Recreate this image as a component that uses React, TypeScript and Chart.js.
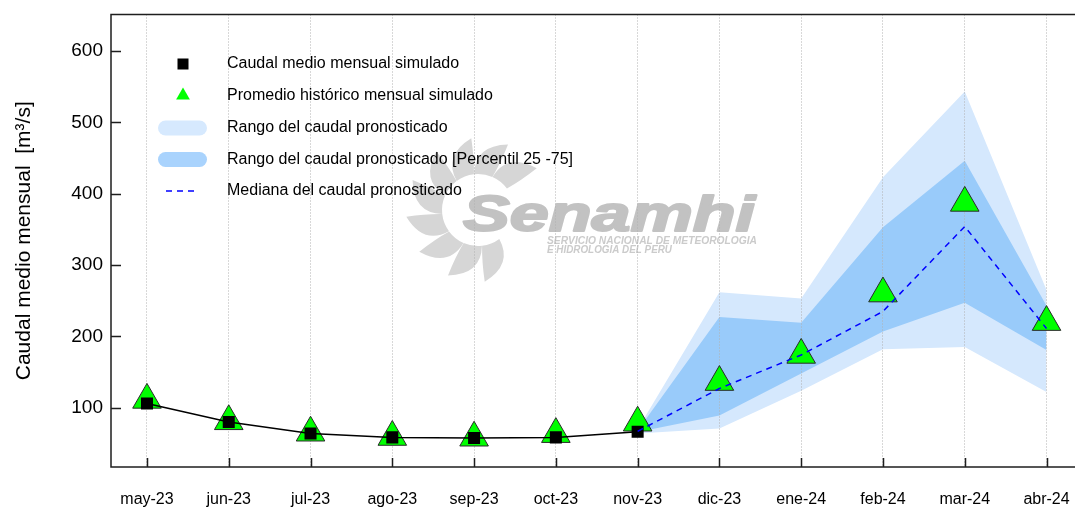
import React, { useEffect, useRef } from 'react';
import { Chart, registerables } from 'chart.js';

Chart.register(...registerables);

const FONT = "'Liberation Sans', Arial, sans-serif";

const months = ['may-23', 'jun-23', 'jul-23', 'ago-23', 'sep-23', 'oct-23', 'nov-23', 'dic-23', 'ene-24', 'feb-24', 'mar-24', 'abr-24'];
const simulado = [106, 80, 64, 58.5, 57.5, 58.5, 66.5];
const historico = [111, 81, 65, 59, 58, 63, 79, 136, 174, 260, 387, 220];
const forecastStart = 6;
const rangoMax = [70, 262, 253, 423, 543, 265];
const p75 = [68, 227, 219, 353, 446, 243];
const mediana = [67, 127, 174, 235, 354, 211];
const p25 = [66, 89, 148, 207, 247, 181];
const rangoMin = [64, 71, 124, 182, 185, 122];
const yTicks = [100, 200, 300, 400, 500, 600];
const legendLabels = [
  'Caudal medio mensual simulado',
  'Promedio histórico mensual simulado',
  'Rango del caudal pronosticado',
  'Rango del caudal pronosticado [Percentil 25 -75]',
  'Mediana del caudal pronosticado',
];
const yTitle = 'Caudal medio mensual  [m³/s]';

const OUTER = '#D5E8FD';
const INNER = '#99CBFA';
const SHIFT = 3; // canvas is drawn 3px above the page top

const pts = (vals: number[], start = 0) => vals.map((v, i) => ({ x: start + i, y: v }));

function drawLogo(ctx: CanvasRenderingContext2D) {
  ctx.save();
  ctx.translate(0, SHIFT);
  const cx = 478, cy = 210;
  ctx.fillStyle = '#d6d6d6';
  const n = 12;
  for (let k = 0; k < n; k++) {
    const a = (k * 2 * Math.PI) / n + 0.15;
    if (Math.cos(a) > 0.72) continue;
    const ri = 36, ro = 72;
    const p = (r: number, ang: number) => [cx + r * Math.cos(ang), cy + r * Math.sin(ang)];
    const [x0, y0] = p(ri, a - 0.26);
    const [c1x, c1y] = p(ro * 0.9, a - 0.2);
    const [tx, ty] = p(ro, a + 0.28);
    const [c2x, c2y] = p(ri + 16, a + 0.3);
    const [x1, y1] = p(ri, a + 0.26);
    ctx.beginPath();
    ctx.moveTo(x0, y0);
    ctx.quadraticCurveTo(c1x, c1y, tx, ty);
    ctx.quadraticCurveTo(c2x, c2y, x1, y1);
    ctx.arc(cx, cy, ri, a + 0.26, a - 0.26, true);
    ctx.closePath();
    ctx.fill();
  }
  ctx.fillStyle = '#c2c2c2';
  ctx.strokeStyle = '#c2c2c2';
  ctx.lineWidth = 2;
  ctx.lineJoin = 'round';
  ctx.textBaseline = 'alphabetic';
  ctx.textAlign = 'left';
  ctx.font = `italic bold 50px ${FONT}`;
  const w = ctx.measureText('Senamhi').width;
  ctx.save();
  ctx.translate(463, 231);
  ctx.scale(292 / w, 1);
  ctx.fillText('Senamhi', 0, 0);
  ctx.strokeText('Senamhi', 0, 0);
  ctx.restore();
  ctx.fillStyle = '#cbcbcb';
  ctx.font = `italic bold 10px ${FONT}`;
  const l1 = 'SERVICIO NACIONAL DE METEOROLOGIA';
  const l2 = 'E HIDROLOGIA DEL PERU';
  const w1 = ctx.measureText(l1).width;
  const w2 = ctx.measureText(l2).width;
  ctx.save();
  ctx.translate(547, 243.5);
  ctx.scale(210 / w1, 1);
  ctx.fillText(l1, 0, 0);
  ctx.restore();
  ctx.save();
  ctx.translate(547, 252.5);
  ctx.scale(125 / w2, 1);
  ctx.fillText(l2, 0, 0);
  ctx.restore();
  ctx.restore();
}

const decor = {
  id: 'decor',
  beforeDraw(chart: any) {
    drawLogo(chart.ctx);
  },
  afterDatasetsDraw(chart: any) {
    const ctx: CanvasRenderingContext2D = chart.ctx;
    const { left, top } = chart.chartArea;
    const mx = left + 72;
    const tx = left + 116;
    const rows = [top + 49.5, top + 81, top + 113.5, top + 145, top + 176.5];
    ctx.save();
    ctx.fillStyle = '#000';
    ctx.fillRect(mx - 5.5, rows[0] - 5.5, 11, 11);
    ctx.fillStyle = '#00FF00';
    ctx.beginPath();
    ctx.moveTo(mx, rows[1] - 8);
    ctx.lineTo(mx + 6.9, rows[1] + 4);
    ctx.lineTo(mx - 6.9, rows[1] + 4);
    ctx.closePath();
    ctx.fill();
    const band = (y: number, color: string) => {
      ctx.fillStyle = color;
      ctx.beginPath();
      (ctx as any).roundRect(mx - 25, y - 7.5, 49, 15, 7.5);
      ctx.fill();
    };
    band(rows[2], '#D6E9FE');
    band(rows[3], '#A9D3FD');
    ctx.strokeStyle = '#0000FF';
    ctx.lineWidth = 1.5;
    ctx.setLineDash([6, 5]);
    ctx.beginPath();
    ctx.moveTo(mx - 17, rows[4]);
    ctx.lineTo(mx + 16, rows[4]);
    ctx.stroke();
    ctx.setLineDash([]);
    ctx.fillStyle = '#000';
    ctx.font = `16px ${FONT}`;
    ctx.textBaseline = 'middle';
    ctx.textAlign = 'left';
    legendLabels.forEach((t, i) => ctx.fillText(t, tx, rows[i]));
    ctx.restore();
  },
  afterDraw(chart: any) {
    const ctx: CanvasRenderingContext2D = chart.ctx;
    const { left, top, right, bottom } = chart.chartArea;
    ctx.save();
    ctx.strokeStyle = '#1e1e1e';
    ctx.lineWidth = 1.5;
    ctx.strokeRect(left, top, right - left, bottom - top);
    ctx.beginPath();
    const ys = chart.scales.y;
    yTicks.forEach((v) => {
      const p = Math.round(ys.getPixelForValue(v)) + 0.5;
      ctx.moveTo(left, p);
      ctx.lineTo(left + 10, p);
    });
    const xs = chart.scales.x;
    months.forEach((_, i) => {
      const p = Math.round(xs.getPixelForValue(i)) + 0.5;
      ctx.moveTo(p, bottom);
      ctx.lineTo(p, bottom - 9);
    });
    ctx.stroke();
    ctx.restore();
  },
};

export default function App() {
  const ref = useRef<HTMLCanvasElement>(null);
  useEffect(() => {
    if (!ref.current) return;
    Chart.defaults.font.family = FONT;
    const chart = new Chart(ref.current, {
      type: 'line',
      data: {
        datasets: [
          {
            label: 'rangoMax',
            data: pts(rangoMax, forecastStart),
            borderWidth: 0,
            pointRadius: 0,
            fill: '+1',
            backgroundColor: OUTER,
            borderColor: 'rgba(0,0,0,0)',
            order: 10,
          },
          {
            label: 'rangoMin',
            data: pts(rangoMin, forecastStart),
            borderWidth: 0,
            pointRadius: 0,
            fill: false,
            borderColor: 'rgba(0,0,0,0)',
            order: 10,
          },
          {
            label: 'p75',
            data: pts(p75, forecastStart),
            borderWidth: 0,
            pointRadius: 0,
            fill: '+1',
            backgroundColor: INNER,
            borderColor: 'rgba(0,0,0,0)',
            order: 8,
          },
          {
            label: 'p25',
            data: pts(p25, forecastStart),
            borderWidth: 0,
            pointRadius: 0,
            fill: false,
            borderColor: 'rgba(0,0,0,0)',
            order: 8,
          },
          {
            label: legendLabels[1],
            data: pts(historico),
            showLine: false,
            pointStyle: 'triangle',
            pointRadius: 16.5,
            pointBackgroundColor: '#00FF00',
            pointBorderColor: '#2a2a2a',
            pointBorderWidth: 1,
            order: 4,
          },
          {
            label: legendLabels[0],
            data: pts(simulado),
            borderColor: '#000',
            borderWidth: 1.5,
            pointStyle: 'rect',
            pointRadius: 8.5,
            pointBackgroundColor: '#000',
            pointBorderColor: '#000',
            pointBorderWidth: 0,
            fill: false,
            order: 3,
          },
          {
            label: legendLabels[4],
            data: pts(mediana, forecastStart),
            borderColor: '#0000FF',
            borderWidth: 1.5,
            borderDash: [6, 5],
            pointRadius: 0,
            fill: false,
            order: 1,
          },
        ],
      },
      options: {
        animation: false,
        responsive: false,
        devicePixelRatio: 1,
        events: [],
        layout: { padding: { top: 11, right: 14, left: 0, bottom: 0 } },
        elements: { line: { tension: 0 } },
        plugins: {
          legend: { display: false },
          tooltip: { enabled: false },
          title: { display: false },
          filler: { drawTime: 'beforeDraw' } as any,
        },
        scales: {
          x: {
            type: 'linear',
            min: -0.44,
            max: 11.44,
            afterBuildTicks: (s: any) => {
              s.ticks = months.map((_, i) => ({ value: i }));
            },
            afterFit: (s: any) => {
              s.height = 41;
            },
            ticks: {
              callback: (v: any) => months[Math.round(Number(v))] ?? '',
              font: { family: FONT, size: 16 },
              color: '#000',
              padding: 23,
              maxRotation: 0,
              autoSkip: false,
            },
            grid: { color: '#b0b0b0', lineWidth: 1, drawTicks: false },
            border: { display: false, dash: [1, 2] },
          },
          y: {
            type: 'linear',
            min: 17,
            max: 651,
            afterBuildTicks: (s: any) => {
              s.ticks = yTicks.map((v) => ({ value: v }));
            },
            afterFit: (s: any) => {
              s.width = 111;
              s.paddingTop = 0;
              s.paddingBottom = 0;
            },
            ticks: { font: { family: FONT, size: 19, lineHeight: 0.2 }, color: '#000', padding: 8 },
            grid: { display: false, drawTicks: false },
            border: { display: false },
            title: {
              display: true,
              text: yTitle,
              font: { family: FONT, size: 21, lineHeight: 1.2 },
              color: '#000',
              padding: { top: 12, bottom: 0 },
            },
          },
        },
      },
      plugins: [decor],
    } as any);
    return () => chart.destroy();
  }, []);
  return (
    <div style={{ position: 'fixed', left: 0, top: 0, width: 1075, height: 508, overflow: 'hidden', background: '#fff' }}>
      <canvas
        ref={ref}
        width={1100}
        height={508 + SHIFT}
        style={{ display: 'block', position: 'absolute', left: 0, top: -SHIFT, width: 1100, height: 508 + SHIFT }}
      />
    </div>
  );
}
